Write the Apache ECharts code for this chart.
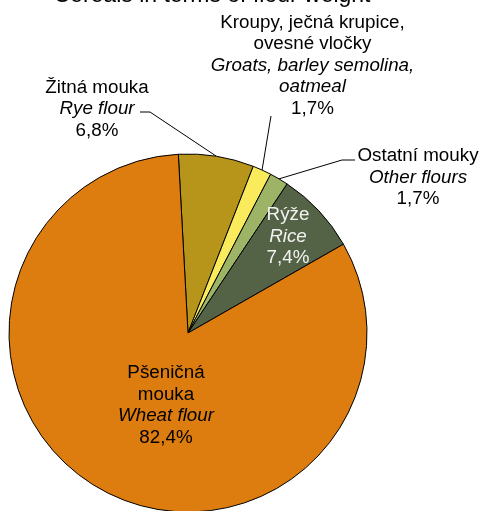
<!DOCTYPE html>
<html>
<head>
<meta charset="utf-8">
<script src="https://cdn.jsdelivr.net/npm/echarts@6/dist/echarts.min.js"></script>
<style>html,body{margin:0;padding:0;background:#fff}#c{width:480px;height:511px}</style>
</head>
<body>
<div id="c"></div>
<script>
const titleText = 'Cereals in terms of flour weight';
const namesCz = ['Žitná mouka', 'Kroupy, ječná krupice,\novesné vločky', 'Ostatní mouky', 'Rýže', 'Pšeničná\nmouka'];
const namesEn = ['Rye flour', 'Groats, barley semolina,\noatmeal', 'Other flours', 'Rice', 'Wheat flour'];
const shares = [6.8, 1.7, 1.7, 7.4, 82.4];
const colors = ['#B7951A', '#F9EB5B', '#9DB366', '#546345', '#DE7D0F'];
const labelInside = [false, false, false, true, true];
const labelColors = ['#000', '#000', '#000', '#F2F2F2', '#000'];

const CX = 188, CY = 333, R = 179, START = 93.1;
// label block centres and leader elbows (layout only)
const labelPos = [
  {x: 97, y: 109, line: [[150, 112], [140, 112]]},
  {x: 312.5, y: 65.5, line: [[271, 116], [271, 116]]},
  {x: 418, y: 177.5, line: [[342, 160], [355, 160]]},
  {x: 288, y: 236.5},
  {x: 166, y: 405.5}
];

const total = shares.reduce((a, b) => a + b, 0);
function midEdge(i) {
  let before = 0;
  for (let k = 0; k < i; k++) before += shares[k];
  const midDeg = START - (before + shares[i] / 2) / total * 360;
  const rad = midDeg * Math.PI / 180;
  return [CX + R * Math.cos(rad), CY - R * Math.sin(rad)];
}

function fmtPct(v) { return v.toFixed(1).replace('.', ',') + '%'; }
function labelText(i) {
  const lines = [];
  namesCz[i].split('\n').forEach(s => lines.push('{n|' + s + '}'));
  namesEn[i].split('\n').forEach(s => lines.push('{e|' + s + '}'));
  lines.push('{n|' + fmtPct(shares[i]) + '}');
  return lines.join('\n');
}

const FONT = 'Liberation Sans, Arial, sans-serif';
const data = shares.map((v, i) => ({
  value: v,
  name: namesEn[i],
  itemStyle: {color: colors[i]},
  label: {
    position: labelInside[i] ? 'inside' : 'outside',
    formatter: labelText(i),
    color: labelColors[i],
    rich: {
      n: {fontSize: 18.8, lineHeight: 21.5, color: labelColors[i], fontFamily: FONT},
      e: {fontSize: 18.8, lineHeight: 21.5, color: labelColors[i], fontStyle: 'italic', fontFamily: FONT}
    }
  },
  labelLine: {show: !labelInside[i]}
}));

const chart = echarts.init(document.getElementById('c'), null, {renderer: 'canvas'});
chart.setOption({
  animation: false,
  backgroundColor: '#fff',
  title: {
    text: titleText,
    left: 207,
    top: -20.5,
    textAlign: 'center',
    textStyle: {fontSize: 23, fontWeight: 'normal', color: '#000', fontFamily: FONT}
  },
  series: [{
    type: 'pie',
    center: [CX, CY],
    radius: [0, R],
    startAngle: START,
    clockwise: true,
    avoidLabelOverlap: false,
    data: data,
    itemStyle: {borderColor: '#000', borderWidth: 1},
    label: {show: true, fontFamily: FONT, align: 'center'},
    labelLine: {lineStyle: {color: '#000', width: 1}},
    labelLayout: function (p) {
      const i = p.dataIndex;
      const lp = labelPos[i];
      const res = {x: lp.x, y: lp.y, align: 'center', verticalAlign: 'middle'};
      if (lp.line) res.labelLinePoints = [midEdge(i), lp.line[0], lp.line[1]];
      return res;
    }
  }]
});
</script>
</body>
</html>
